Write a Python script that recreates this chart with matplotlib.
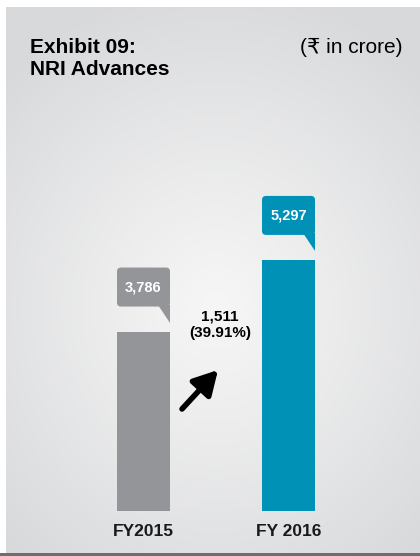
import numpy as np
import matplotlib.pyplot as plt
from matplotlib.patches import FancyBboxPatch, Polygon, Rectangle

categories = ['FY2015', 'FY 2016']
values = [3786, 5297]
value_labels = ['3,786', '5,297']
change_label = '1,511\n(39.91%)'
bar_colors = ['#939598', '#0091b7']

W, H = 420, 556
px_per_unit = 0.0474          # vertical pixels per crore
narrow = ['Liberation Sans Narrow', 'Liberation Sans', 'DejaVu Sans']
regular = ['Liberation Sans', 'DejaVu Sans']

fig = plt.figure(figsize=(W / 100, H / 100), dpi=100)

# grey panel with soft radial highlight
bg = fig.add_axes([6 / W, 3 / H, 414 / W, 546 / H])
ny, nx = 546, 414
yy, xx = np.mgrid[0:ny, 0:nx]
r = np.sqrt(((xx - 210) / 300) ** 2 + ((yy - 300) / 330) ** 2)
r = np.clip(r, 0, 1) ** 1.1
edge = np.array([216, 217, 219]) / 255
centre = np.array([246, 246, 246]) / 255
img = centre + (edge - centre) * r[..., None]
bg.imshow(img, extent=[0, 1, 0, 1], aspect='auto', origin='upper')
bg.axis('off')
fig.add_artist(Rectangle((0, 0), 1, 3 / H, transform=fig.transFigure,
                         color='#6d6e71', lw=0))

# bars
ax = fig.add_axes([0, 45 / H, 1, 504 / H])
ax.patch.set_alpha(0)
spacing = 145
ax.set_xlim(-143.5 / spacing, (W - 143.5) / spacing)
ax.set_ylim(0, 504 / px_per_unit)
w = 53 / spacing
x = np.arange(len(values))
ax.bar(x, values, width=w, color=bar_colors)
ax.axis('off')

ux = 1 / spacing          # data units per pixel, x
uy = 1 / px_per_unit      # data units per pixel, y
for i, v in enumerate(values):
    x0, x1 = i - w / 2, i + w / 2
    tip = v + 8.5 * uy
    b0 = v + 25 * uy
    b1 = v + 64 * uy
    box = FancyBboxPatch((x0, b0), w, b1 - b0,
                         boxstyle='round,pad=0,rounding_size=%f' % (4 * ux),
                         mutation_aspect=uy / ux, color=bar_colors[i], lw=0)
    ax.add_patch(box)
    ax.add_patch(Polygon([(x1 - 12 * ux, b0 + 2 * uy), (x1, b0 + 2 * uy), (x1, tip)],
                         closed=True, color=bar_colors[i], lw=0))
    ax.text(i, (b0 + b1) / 2, value_labels[i], color='white', fontsize=10.5,
            fontweight='bold', family=narrow, ha='center', va='center')
    ax.text(i, -21 * uy, categories[i], color='#1a1a1a', fontsize=12.5,
            fontweight='bold', family=narrow, ha='center', va='center', clip_on=False)

ax.text((220 - 143.5) * ux, (511 - 325) * uy, change_label, fontsize=11,
        fontweight='bold', family=narrow, ha='center', va='center', linespacing=1.25)

ax.annotate('', xy=(218 / W, 1 - 370 / H), xytext=(182 / W, 1 - 409 / H),
            xycoords='figure fraction', textcoords='figure fraction',
            arrowprops=dict(arrowstyle='-|>,head_length=0.9,head_width=0.5',
                            lw=4, color='black', mutation_scale=16,
                            shrinkA=0, shrinkB=0))

fig.text(30 / W, 1 - 38 / H, 'Exhibit 09:\nNRI Advances', fontsize=15,
         fontweight='bold', family=regular, ha='left', va='top', linespacing=1.2)
fig.text(402 / W, 1 - 38 / H, '(\u20b9 in crore)', fontsize=15,
         family=regular, ha='right', va='top')

fig.savefig('out.png', dpi=100)
